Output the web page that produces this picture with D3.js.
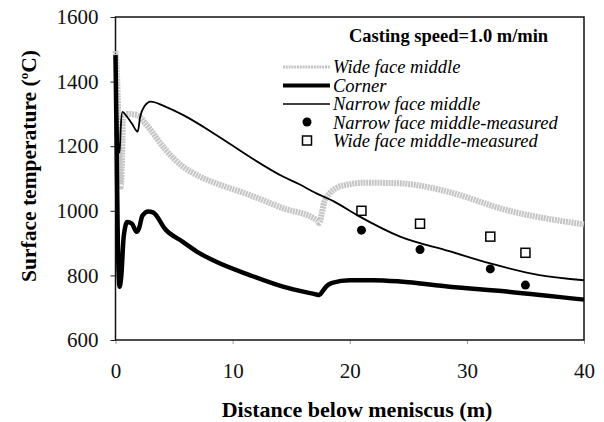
<!DOCTYPE html>
<html>
<head>
<meta charset="utf-8">
<script src="https://cdn.jsdelivr.net/npm/d3@7"></script>
<style>
body { margin: 0; background: #fff; }
svg text { font-family: "Times New Roman", "Liberation Serif", Times, "DejaVu Serif", serif; }
</style>
</head>
<body>
<script>
const w = 604;
const h = 422;
const margin = {top: 17, right: 20, bottom: 82, left: 115.5};
const serif = '"Times New Roman", "Liberation Serif", Times, "DejaVu Serif", serif';

// distance below meniscus (m) and surface temperature (C)
const wideX = [0, 0.15, 0.3, 0.45, 0.55, 0.65, 1.0, 1.8, 2.6, 3.0, 4.3, 5.75, 7.2, 8.6, 11.45, 14.3, 17.15, 17.4, 17.6, 17.8, 18.3, 19.4, 21.4, 24.3, 27.1, 28.5, 33.4, 40];
const wideT = [1495, 1400, 1200, 1075, 1150, 1290, 1300, 1297, 1268, 1250, 1188, 1137, 1106, 1085, 1049, 1008, 972, 962, 990, 1025, 1054, 1078, 1087, 1085, 1070, 1058, 1002, 958];

const cornerX = [0, 0.1, 0.2, 0.35, 0.5, 0.7, 1.0, 1.4, 1.8, 2.0, 2.3, 2.8, 3.2, 4.3, 5.75, 7.2, 8.6, 11.45, 14.3, 17.15, 17.4, 17.7, 18.0, 18.5, 20, 22, 24.3, 28.5, 33.4, 40];
const cornerT = [1482, 1200, 900, 765, 800, 920, 965, 960, 935, 945, 985, 998, 995, 941, 904, 868, 842, 801, 765, 741, 739, 752, 766, 777, 785, 785, 781, 765, 750, 725];

const narrowX = [0, 0.1, 0.25, 0.35, 0.45, 0.6, 0.9, 1.4, 1.9, 2.1, 2.5, 3.0, 4.3, 5.75, 8.6, 11.45, 14.3, 15.7, 17.15, 18.6, 20.7, 24.3, 28.5, 32, 36.2, 40];
const narrowT = [1480, 1350, 1200, 1180, 1260, 1306, 1295, 1270, 1245, 1290, 1325, 1338, 1322, 1297, 1235, 1167, 1106, 1082, 1054, 1030, 985, 920, 875, 837, 801, 785];

const measX = [21, 26, 32, 35];
const narrowMeas = [940, 880, 820, 770];
const wideMeas = [1000, 960, 920, 870];

const xTicks = [0, 10, 20, 30, 40];
const yTicks = [600, 800, 1000, 1200, 1400, 1600];

const legendLabels = ['Wide face middle', 'Corner', 'Narrow face middle', 'Narrow face middle-measured', 'Wide face middle-measured'];

const zip = (xs, ys) => xs.map((x, i) => [x, ys[i]]);

const svg = d3.select('body')
  .append('svg')
  .attr('width', w)
  .attr('height', h)
  .attr('font-family', serif);

const xScale = d3.scaleLinear()
  .domain([0, 40])
  .range([margin.left, w - margin.right]);

const yScale = d3.scaleLinear()
  .domain([600, 1600])
  .range([h - margin.bottom, margin.top]);

// axes
svg.append('g')
  .attr('transform', `translate(0,${h - margin.bottom})`)
  .call(d3.axisBottom(xScale).tickValues(xTicks).tickFormat(d3.format('d')).tickSize(4).tickPadding(19).tickSizeOuter(0))
  .attr('font-family', serif)
  .call(g => g.select('.domain').remove())
  .call(g => g.selectAll('line').attr('stroke', '#999'))
  .call(g => g.selectAll('text').attr('font-size', 21).attr('fill', '#111'));

svg.append('g')
  .attr('transform', `translate(${margin.left},0)`)
  .call(d3.axisLeft(yScale).tickValues(yTicks).tickFormat(d3.format('d')).tickSize(5).tickPadding(12).tickSizeOuter(0))
  .attr('font-family', serif)
  .call(g => g.select('.domain').remove())
  .call(g => g.selectAll('line').attr('stroke', '#222'))
  .call(g => g.selectAll('text').attr('font-size', 21).attr('fill', '#111'));

// frame
svg.append('rect')
  .attr('x', xScale(0))
  .attr('y', yScale(1600))
  .attr('width', xScale(40) - xScale(0))
  .attr('height', yScale(600) - yScale(1600))
  .attr('fill', 'none')
  .attr('stroke', '#111')
  .attr('stroke-width', 1.5);

const line = d3.line()
  .x(d => xScale(d[0]))
  .y(d => yScale(d[1]))
  .curve(d3.curveMonotoneX);

svg.append('path')
  .datum(zip(wideX, wideT))
  .attr('d', line)
  .attr('fill', 'none')
  .attr('stroke', '#c4c4c4')
  .attr('stroke-width', 6)
  .attr('stroke-dasharray', '2,0.8');

svg.append('path')
  .datum(zip(narrowX, narrowT))
  .attr('d', line)
  .attr('fill', 'none')
  .attr('stroke', '#000')
  .attr('stroke-width', 1.8);

svg.append('path')
  .datum(zip(cornerX, cornerT))
  .attr('d', line)
  .attr('fill', 'none')
  .attr('stroke', '#000')
  .attr('stroke-width', 4.5)
  .attr('stroke-linejoin', 'round');

svg.selectAll('.nm')
  .data(zip(measX, narrowMeas))
  .enter()
  .append('circle')
  .attr('cx', d => xScale(d[0]))
  .attr('cy', d => yScale(d[1]))
  .attr('r', 4.5)
  .attr('fill', '#000');

svg.selectAll('.wm')
  .data(zip(measX, wideMeas))
  .enter()
  .append('rect')
  .attr('x', d => xScale(d[0]) - 4.5)
  .attr('y', d => yScale(d[1]) - 4.5)
  .attr('width', 9)
  .attr('height', 9)
  .attr('fill', '#fff')
  .attr('stroke', '#000')
  .attr('stroke-width', 1.5);

// title
svg.append('text')
  .attr('x', 349)
  .attr('y', 42)
  .attr('font-size', 18.5)
  .attr('font-weight', 'bold')
  .text('Casting speed=1.0 m/min');

// legend
const lg = svg.append('g');
const ly0 = 73, ldy = 18.5;
legendLabels.forEach((t, i) => {
  lg.append('text')
    .attr('x', 333)
    .attr('y', ly0 + i * ldy)
    .attr('font-size', 18.5)
    .attr('font-style', 'italic')
    .text(t);
});
lg.append('line').attr('x1', 283).attr('x2', 330).attr('y1', 67).attr('y2', 67)
  .attr('stroke', '#c4c4c4').attr('stroke-width', 3).attr('stroke-dasharray', '2,0.8');
lg.append('line').attr('x1', 283).attr('x2', 330).attr('y1', 85.5).attr('y2', 85.5)
  .attr('stroke', '#000').attr('stroke-width', 4);
lg.append('line').attr('x1', 283).attr('x2', 330).attr('y1', 104).attr('y2', 104)
  .attr('stroke', '#000').attr('stroke-width', 1.5);
lg.append('circle').attr('cx', 307).attr('cy', 122).attr('r', 4.5).attr('fill', '#000');
lg.append('rect').attr('x', 302.5).attr('y', 136).attr('width', 9).attr('height', 9)
  .attr('fill', '#fff').attr('stroke', '#000').attr('stroke-width', 1.5);

// axis titles
svg.append('text')
  .attr('x', 357)
  .attr('y', 417)
  .attr('text-anchor', 'middle')
  .attr('font-size', 22)
  .attr('font-weight', 'bold')
  .text('Distance below meniscus (m)');

const yl = svg.append('text')
  .attr('transform', 'translate(36,166) rotate(-90)')
  .attr('text-anchor', 'middle')
  .attr('font-size', 21.5)
  .attr('font-weight', 'bold');
yl.append('tspan').text('Surface temperature (');
yl.append('tspan').attr('font-size', 13).attr('dy', -8).text('o');
yl.append('tspan').attr('dy', 8).text('C)');
</script>
</body>
</html>
